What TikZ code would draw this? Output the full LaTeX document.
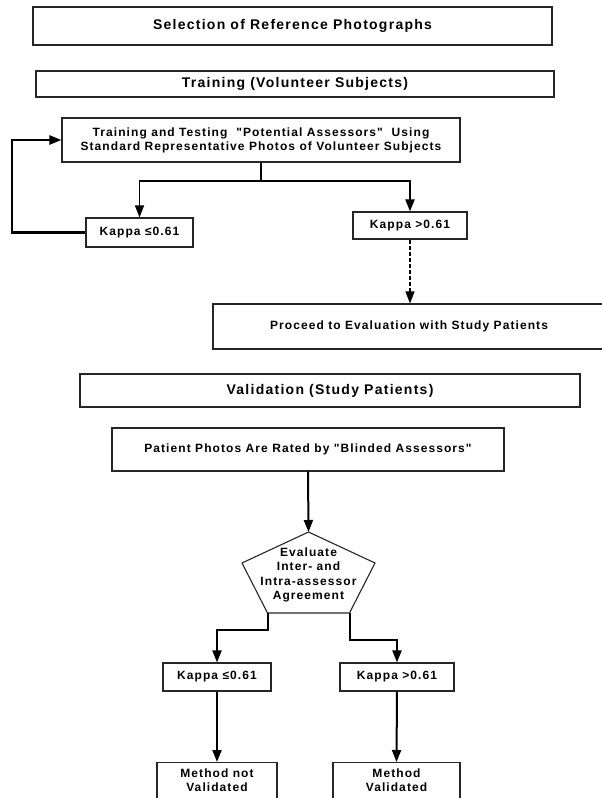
\documentclass[tikz,border=0pt]{standalone}
\usepackage{fontspec}
\setmainfont{Liberation Sans}[LetterSpace=9, Ligatures=TeXOff]
\usetikzlibrary{arrows.meta}
\tikzset{
  box/.style={draw=black!85, line width=1.1pt, inner sep=0pt, align=center,
    font=\fontsize{12}{14}\selectfont\bfseries},
  titlebox/.style={box, font=\fontsize{14}{16}\selectfont\bfseries},
  tip/.style={-{Triangle[length=12pt,width=9pt]}},
  thinline/.style={line width=1.2pt},
  thickline/.style={line width=2pt},
  loopline/.style={line width=2.4pt},
  dashline/.style={line width=1.2pt, dash pattern=on 4pt off 2pt},
  txt/.style={align=center, inner sep=0pt, font=\fontsize{12}{14.4}\selectfont\bfseries}
}
\begin{document}
\begin{tikzpicture}[x=1pt,y=-1pt]
\useasboundingbox[fill=white] (0,0) rectangle (602,798);
% top titles
\node[titlebox, minimum width=519, minimum height=38] (sel) at (292.5,26) {Selection of Reference Photographs};
\node[titlebox, minimum width=518, minimum height=26] (train) at (295,84) {Training (Volunteer Subjects)};
% training block
\node[box, minimum width=398, minimum height=44] (tt) at (261,140) {Training and Testing\ \ "Potential Assessors"\ \ Using\\Standard Representative Photos of Volunteer Subjects};
\node[box, minimum width=107, minimum height=29] (kle1) at (139.5,232.5) {Kappa ≤0.61};
\node[box, minimum width=114, minimum height=27] (kgt1) at (410,225.5) {Kappa >0.61};
\node[box, minimum width=392, minimum height=45] (proceed) at (409,326.5) {Proceed to Evaluation with Study Patients};
\coordinate (split) at (261,181);
\coordinate (loopx) at (12,0);
\draw[thinline] (tt.south) -- (split);
\draw[thinline, tip] (split) -| (kle1.north);
\draw[thickline, tip] (split) -| (kgt1.north);
\draw[loopline, tip] (kle1.west) -- (kle1.west -| loopx) |- (tt.west);
\draw[dashline, tip] (kgt1.south) -- (kgt1.south |- proceed.north);
% validation block
\node[titlebox, minimum width=500, minimum height=33] (valid) at (330,390.5) {Validation (Study Patients)};
\node[box, minimum width=392, minimum height=43] (patient) at (308,449.5) {Patient Photos Are Rated by "Blinded Assessors"};
\coordinate (apex) at (308.5,532);
\coordinate (pur) at (375,563);
\coordinate (pbr) at (349.5,613);
\coordinate (pbl) at (267.5,613);
\coordinate (pul) at (242,563);
\draw[draw=black!85, line width=1.1pt] (apex) -- (pur) -- (pbr) -- (pbl) -- (pul) -- cycle;
\node[txt] (evaltext) at (308.5,575) {Evaluate\\Inter- and\\Intra-assessor\\Agreement};
\draw[thickline, tip] (patient.south) -- (apex);
\node[box, minimum width=108, minimum height=28] (kle2) at (217,677) {Kappa ≤0.61};
\node[box, minimum width=114, minimum height=28] (kgt2) at (397,677) {Kappa >0.61};
\coordinate (lstep) at (0,630);
\coordinate (rstep) at (0,640);
\draw[thickline, tip] (pbl) -- (pbl |- lstep) -| (kle2.north);
\draw[thickline, tip] (pbr) -- (pbr |- rstep) -| (kgt2.north);
\node[box, anchor=north, minimum width=120, inner ysep=6pt] (mnv) at (217,762) {Method not\\Validated\\\mbox{}};
\node[box, anchor=north, minimum width=127, inner ysep=6pt] (mv) at (396.5,762) {Method\\Validated\\\mbox{}};
\draw[thickline, tip] (kle2.south) -- (mnv.north);
\draw[thickline, tip] (kgt2.south) -- (mv.north);
\end{tikzpicture}
\end{document}
